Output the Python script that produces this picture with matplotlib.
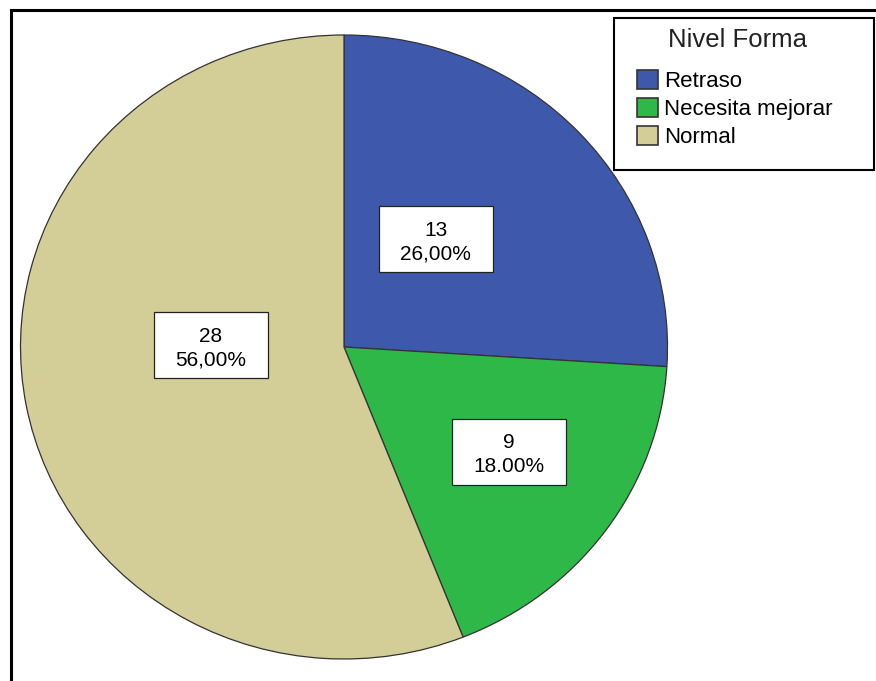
import matplotlib
matplotlib.use("Agg")
import matplotlib.pyplot as plt
from matplotlib.patches import Rectangle, Patch
from matplotlib.lines import Line2D

plt.rcParams['font.family'] = ['Liberation Sans', 'DejaVu Sans']

# data
categories = ['Retraso', 'Necesita mejorar', 'Normal']
counts = [13, 9, 28]
pct_labels = ['26,00%', '18.00%', '56,00%']
colors = ['#3E58AC', '#2EB848', '#D3CE97']

# label box centres (data units, pie radius = 1)
label_pos = [(0.284, 0.345), (0.510, -0.335), (-0.412, 0.005)]

W, H = 876, 681
cx, cy, rx, ry = 344, 347, 323.5, 312

fig = plt.figure(figsize=(W / 100, H / 100), dpi=100)
ax = fig.add_axes([0, 0, 1, 1])

ax.pie(counts, colors=colors, startangle=90, counterclock=False, radius=1,
       wedgeprops=dict(edgecolor='#333333', linewidth=0.9))
ax.set_aspect('auto')
ax.set_xlim(-cx / rx, (W - cx) / rx)
ax.set_ylim(-(H - cy) / ry, cy / ry)
ax.axis('off')

# value labels in white boxes
bw, bh = 114 / rx, 66 / ry
for (x, y), n, p in zip(label_pos, counts, pct_labels):
    ax.add_patch(Rectangle((x - bw / 2, y - bh / 2), bw, bh, facecolor='white',
                           edgecolor='#222222', linewidth=0.9, zorder=5))
    ax.text(x, y - 3 / ry, f'{n}\n{p}', ha='center', va='center', fontsize=15,
            linespacing=1.3, zorder=6)

# legend
handles = [Patch(facecolor=c, edgecolor='#333333', linewidth=1.2) for c in colors]
leg = fig.legend(handles, categories, frameon=False,
                 loc='upper left', bbox_to_anchor=(637 / W, 1 - 70 / H),
                 fontsize=16, handlelength=0.95,
                 handleheight=0.95, handletextpad=0.25, labelspacing=0.26,
                 borderpad=0, borderaxespad=0)
fig.text(738 / W, 1 - 40 / H, 'Nivel Forma', ha='center', va='center',
         fontsize=18.5, color='#222222')

# legend frame
fig.add_artist(Rectangle((614 / W, 1 - 170 / H), 260 / W, 152 / H,
                         transform=fig.transFigure, facecolor='none',
                         edgecolor='black', linewidth=1.5))

# outer frame (top and left)
fig.add_artist(Line2D([10.5 / W, 1], [1 - 10 / H, 1 - 10 / H],
                      transform=fig.transFigure, color='black', linewidth=2.2))
fig.add_artist(Line2D([10.5 / W, 10.5 / W], [0, 1 - 10 / H],
                      transform=fig.transFigure, color='black', linewidth=2.2))

fig.savefig('out.png', dpi=100)
